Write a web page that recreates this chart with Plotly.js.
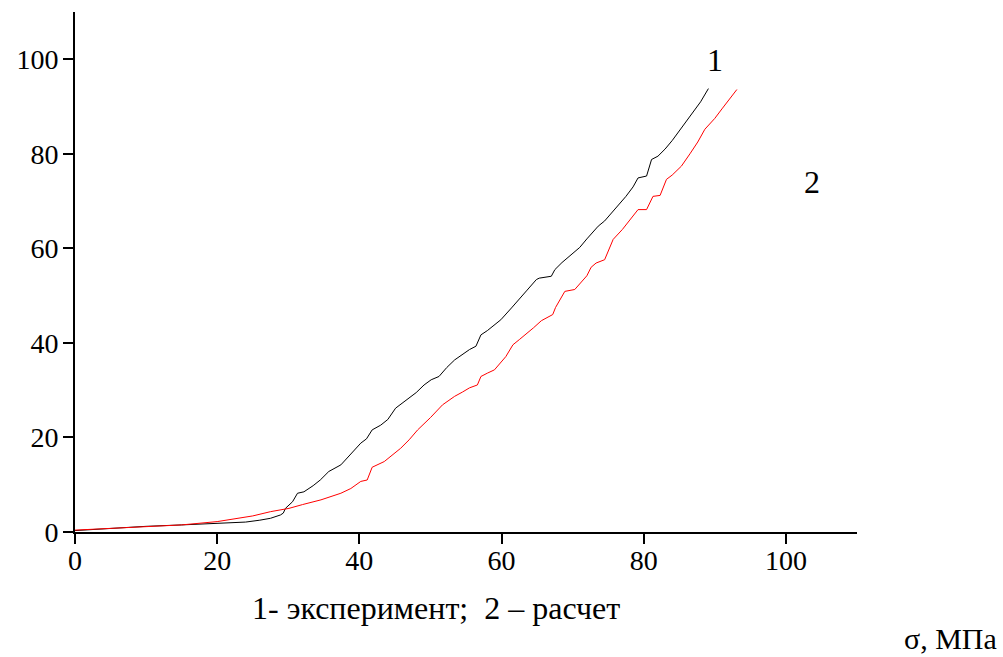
<!DOCTYPE html>
<html>
<head>
<meta charset="utf-8">
<script src="https://cdn.plot.ly/plotly-3.0.1.min.js"></script>
<style>html,body{margin:0;padding:0;background:#fff;}#chart{width:1003px;height:657px;}</style>
</head>
<body>
<div id="chart"></div>
<script>
// Curve 1 - experiment
const expX = [0, 5, 10, 15, 20, 24, 26, 27.5, 28.9, 29.3, 29.6, 30.6, 31.3, 32.2, 33.5, 34.5, 35.7, 37.4, 38.8, 40.2, 41.0, 41.8, 43.0, 44.0, 45.1, 46.5, 48.0, 49.1, 50.1, 51.2, 52.3, 53.4, 54.5, 55.5, 56.4, 57.1, 58.0, 59.0, 59.9, 61.4, 62.5, 63.5, 64.9, 65.3, 67.0, 67.5, 68.5, 70.0, 71.0, 72.0, 73.6, 74.5, 75.5, 76.5, 77.5, 78.5, 79.2, 80.4, 81.1, 82.0, 83.0, 84.0, 85.3, 86.0, 87.0, 88.0, 89.1];
const expY = [0.3, 0.8, 1.2, 1.5, 1.8, 2.1, 2.5, 2.9, 3.6, 4.0, 5.0, 6.4, 8.2, 8.5, 9.8, 11.0, 12.8, 14.2, 16.5, 18.8, 19.7, 21.6, 22.6, 23.8, 26.2, 27.8, 29.5, 31.1, 32.2, 32.9, 34.8, 36.4, 37.6, 38.6, 39.3, 41.7, 42.6, 43.9, 44.9, 47.4, 49.2, 51.0, 53.4, 53.7, 54.1, 55.5, 57.0, 58.8, 60.2, 62.0, 64.7, 65.8, 67.5, 69.3, 71.0, 73.0, 74.9, 75.3, 78.8, 79.5, 81.0, 82.8, 85.5, 87.0, 89.0, 91.0, 93.8];

// Curve 2 - calculation
const calcX = [0, 5, 10, 15, 20, 25, 27.5, 30.1, 32.0, 34.6, 37.4, 38.8, 40.2, 40.9, 41.1, 41.8, 43.5, 45.8, 47.0, 48.2, 50.0, 51.7, 52.5, 53.4, 54.5, 55.5, 56.6, 57.1, 58.0, 59.0, 60.6, 61.6, 62.5, 63.5, 64.5, 65.6, 66.5, 67.2, 67.6, 68.9, 70.3, 71.0, 72.0, 72.6, 73.3, 74.5, 75.7, 77.0, 78.0, 79.2, 80.4, 81.3, 82.3, 83.2, 84.0, 85.3, 86.5, 87.6, 88.6, 90.0, 91.0, 92.0, 93.1];
const calcY = [0.4, 0.8, 1.2, 1.5, 2.2, 3.4, 4.3, 5.0, 5.8, 6.8, 8.2, 9.2, 10.7, 11.0, 11.0, 13.7, 14.9, 17.7, 19.5, 21.6, 24.2, 26.9, 27.8, 28.7, 29.6, 30.5, 31.1, 32.9, 33.6, 34.3, 37.1, 39.6, 40.7, 41.9, 43.2, 44.7, 45.4, 46.0, 47.5, 50.9, 51.3, 52.6, 54.2, 56.0, 56.9, 57.6, 61.9, 64.0, 66.0, 68.2, 68.2, 71.0, 71.2, 74.6, 75.5, 77.4, 80.0, 82.5, 85.2, 87.5, 89.5, 91.4, 93.6];

const tickVals = [0, 20, 40, 60, 80, 100];
const tickText = ["0", "20", "40", "60", "80", "100"];
const curveLabels = ["1", "2"];
const labelX = [90.0, 103.7];
const labelY = [99.8, 74.0];
const captionText = "1- эксперимент;  2 – расчет";
const xAxisText = "σ, МПа";

const FONT = "Liberation Serif";

const traces = [
  {x: expX, y: expY, mode: "lines", line: {color: "#000000", width: 1}, hoverinfo: "skip"},
  {x: calcX, y: calcY, mode: "lines", line: {color: "#ff0000", width: 1}, hoverinfo: "skip"}
];

const axisCommon = {
  range: [0, 110],
  tickvals: tickVals,
  ticktext: tickText,
  ticks: "outside",
  ticklen: 10,
  tickwidth: 2,
  tickcolor: "#000",
  showline: true,
  linecolor: "#000",
  linewidth: 2,
  showgrid: false,
  zeroline: false,
  tickfont: {family: FONT, size: 28, color: "#000"},
  fixedrange: true
};

const layout = {
  width: 1003,
  height: 657,
  margin: {l: 75, r: 146, t: 12, b: 125},
  paper_bgcolor: "#fff",
  plot_bgcolor: "#fff",
  showlegend: false,
  font: {family: FONT},
  xaxis: Object.assign({}, axisCommon, {ticklabelstandoff: -8}),
  yaxis: Object.assign({}, axisCommon, {ticklabelstandoff: -1}),
  annotations: [
    {x: labelX[0], y: labelY[0], xref: "x", yref: "y", text: curveLabels[0], showarrow: false, xanchor: "center", yanchor: "middle", font: {family: FONT, size: 32, color: "#000"}},
    {x: labelX[1], y: labelY[1], xref: "x", yref: "y", text: curveLabels[1], showarrow: false, xanchor: "center", yanchor: "middle", font: {family: FONT, size: 32, color: "#000"}},
    {x: 436, y: 608, xref: "paper", yref: "paper", text: captionText, showarrow: false, xanchor: "center", yanchor: "middle", font: {family: FONT, size: 32, color: "#000"}},
    {x: 999, y: 638, xref: "paper", yref: "paper", text: xAxisText, showarrow: false, xanchor: "right", yanchor: "middle", font: {family: FONT, size: 30, color: "#000"}}
  ]
};

// convert pixel-positioned captions to paper coords
const plotW = 1003 - 75 - 146, plotH = 657 - 12 - 125;
[2, 3].forEach(i => {
  const a = layout.annotations[i];
  a.x = (a.x - 75) / plotW;
  a.y = (657 - 125 - a.y) / plotH;
});

Plotly.newPlot("chart", traces, layout, {displayModeBar: false, staticPlot: true});
</script>
</body>
</html>
